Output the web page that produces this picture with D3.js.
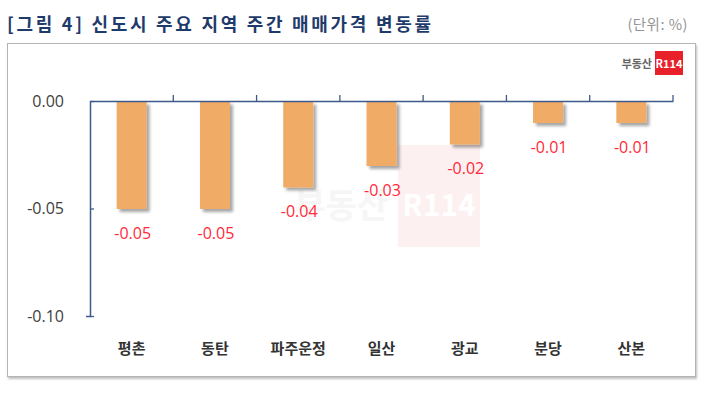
<!DOCTYPE html>
<html><head><meta charset="utf-8">
<script src="https://cdn.jsdelivr.net/npm/d3@7"></script>
<style>
body{margin:0;background:#fff;}
svg{display:block;}
</style></head>
<body>
<svg id="chart" width="710" height="401"></svg>
<script>
const categories = ["평촌","동탄","파주운정","일산","광교","분당","산본"];
const values = [-0.05,-0.05,-0.04,-0.03,-0.02,-0.01,-0.01];
const yTicks = [0,-0.05,-0.10];
const title = "[그림 4] 신도시 주요 지역 주간 매매가격 변동률";
const unitLabel = "(단위: %)";

const svg = d3.select("#chart");
const KR = "'Noto Sans CJK KR','Noto Sans',sans-serif";
const NUM = "'Open Sans','Noto Sans',sans-serif";
const fmt = d => d3.format(".2f")(d).replace("\u2212","-");

const defs = svg.append("defs");
const f = defs.append("filter").attr("id","sh").attr("x","-20%").attr("y","-20%").attr("width","160%").attr("height","160%");
f.append("feDropShadow").attr("dx",3).attr("dy",3).attr("stdDeviation",1.5).attr("flood-color","#000").attr("flood-opacity",0.35);
const fb = defs.append("filter").attr("id","fsh").attr("x","-5%").attr("y","-5%").attr("width","110%").attr("height","110%");
fb.append("feDropShadow").attr("dx",1).attr("dy",2).attr("stdDeviation",1).attr("flood-color","#000").attr("flood-opacity",0.25);

// title
svg.append("text").attr("x",7).attr("y",31).text(title)
  .attr("textLength",424).attr("lengthAdjust","spacing")
  .attr("font-family",KR).attr("font-size",18).attr("font-weight","bold").attr("fill","#1f3b6b");
svg.append("text").attr("x",688).attr("y",30).attr("text-anchor","end").text(unitLabel)
  .attr("letter-spacing",0.5)
  .attr("font-family",KR).attr("font-size",14.5).attr("fill","#959595");

// frame
svg.append("rect").attr("x",7.5).attr("y",43.5).attr("width",688).attr("height",333)
  .attr("fill","#fff").attr("stroke","#b4b4b4").attr("stroke-width",1).attr("filter","url(#fsh)");

// watermark
const wm = svg.append("g");
wm.append("rect").attr("x",398).attr("y",145).attr("width",82).attr("height",102).attr("fill","#fdf0f1");
wm.append("text").attr("x",439).attr("y",216).attr("text-anchor","middle").text("R114")
  .attr("font-family",KR).attr("font-size",30).attr("font-weight","bold").attr("fill","#ffffff");
wm.append("text").attr("x",388).attr("y",218).attr("text-anchor","end").text("부동산")
  .attr("font-family",KR).attr("font-size",34).attr("font-weight","bold").attr("fill","#f6f6f6");

// logo
svg.append("text").attr("x",652).attr("y",68).attr("text-anchor","end").text("부동산")
  .attr("font-family",KR).attr("font-size",11).attr("font-weight","bold").attr("fill","#666");
svg.append("rect").attr("x",655).attr("y",51).attr("width",28).attr("height",24).attr("fill","#e8202a");
svg.append("text").attr("x",669).attr("y",68).attr("text-anchor","middle").text("R114")
  .attr("font-family",KR).attr("font-size",11).attr("font-weight","bold").attr("fill","#fff");

// scales
const x = d3.scaleBand().domain(categories).range([90,673]).paddingInner(0).paddingOuter(0);
const y = d3.scaleLinear().domain([-0.10,0]).range([316,101]);
const barW = 30;

// bars
svg.append("g").selectAll("rect").data(values).join("rect")
  .attr("x",(d,i)=>x(categories[i])+x.bandwidth()/2-barW/2)
  .attr("y",y(0)+0.5)
  .attr("width",barW)
  .attr("height",d=>y(d)-y(0))
  .attr("fill","#f0ab66")
  .attr("filter","url(#sh)");

// axes
const axisColor = "#3d5a8c";
const yAxis = svg.append("g").attr("transform","translate(90,0)")
  .call(d3.axisLeft(y).tickValues(yTicks).tickSize(4).tickFormat(fmt));
yAxis.select(".domain").attr("stroke",axisColor).attr("stroke-width",1.5).attr("d","M-4,316.5H0.5V101");
yAxis.selectAll(".tick line").attr("stroke",axisColor).attr("stroke-width",1.3).attr("x1",0).attr("x2",4);
yAxis.selectAll(".tick text").attr("x",-26).attr("font-family",NUM).attr("font-size",16).attr("fill","#404040");

const xAxis = svg.append("g").attr("transform","translate(0,101)")
  .call(d3.axisTop(x).tickValues([]).tickSizeOuter(0));
xAxis.select(".domain").attr("stroke",axisColor).attr("stroke-width",1.5);
const bounds = categories.map((c,i)=>x(c)+x.bandwidth());
svg.append("g").selectAll("line").data(bounds).join("line")
  .attr("x1",d=>d).attr("x2",d=>d).attr("y1",101).attr("y2",95)
  .attr("stroke",axisColor).attr("stroke-width",1.3);

// value labels
svg.append("g").selectAll("text").data(values).join("text")
  .attr("x",(d,i)=>x(categories[i])+x.bandwidth()/2+1)
  .attr("y",d=>y(d)+30)
  .attr("text-anchor","middle")
  .text(d=>fmt(d))
  .attr("font-family",NUM).attr("font-size",16).attr("fill","#ff2a3a");

// category labels
svg.append("g").selectAll("text").data(categories).join("text")
  .attr("x",d=>x(d)+x.bandwidth()/2)
  .attr("y",354)
  .attr("text-anchor","middle")
  .text(d=>d)
  .attr("font-family",KR).attr("font-size",15).attr("font-weight","bold").attr("fill","#333");
</script>
</body></html>
